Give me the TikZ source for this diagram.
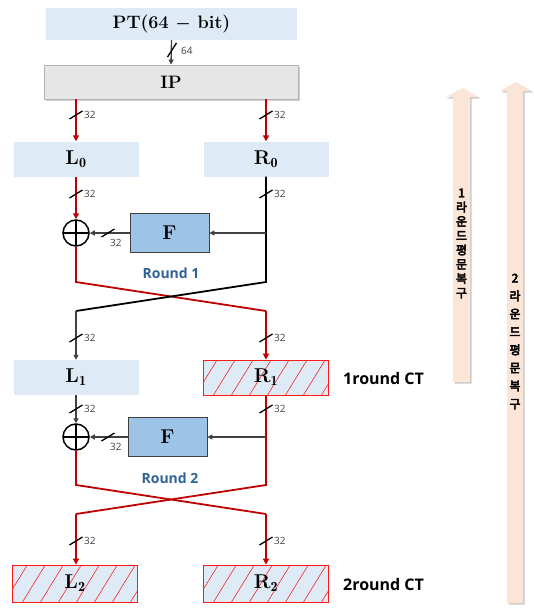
\documentclass[tikz,border=0pt]{standalone}
\usepackage{fontspec}
\usepackage{amsmath,bm}
\newfontfamily\sansf{Open Sans}
\newfontfamily\krf[FakeBold=4]{Noto Sans CJK KR}
\usetikzlibrary{arrows.meta,shadows,calc}
\definecolor{boxblue}{HTML}{DEEBF7}
\definecolor{fblue}{HTML}{9DC3E6}
\definecolor{ipgray}{HTML}{E7E6E6}
\definecolor{redl}{HTML}{C00000}
\definecolor{roundblue}{HTML}{2F6396}
\definecolor{peach}{HTML}{FBE5D6}
\definecolor{darkg}{HTML}{404040}
\newcommand\bitmark[4]{%
  \coordinate (#1) at #2;
  \draw[slashst] ($(#1)+(-6.5,4)$) -- ($(#1)+(6.5,-4)$);
  \node[bitlbl] (#1t) at ($(#1)+#3$) {#4};}
\begin{document}
\begin{tikzpicture}[x=1pt,y=-1pt,
  bigfont/.style={font=\fontsize{18}{20}\selectfont\bfseries},
  boxfont/.style={font=\fontsize{20}{22}\selectfont\bfseries},
  lbox/.style={fill=boxblue, minimum width=125pt, minimum height=35pt, inner sep=0pt, boxfont},
  hatchbox/.style={lbox, draw=red!90, line width=0.7pt,
    path picture={\foreach \k in {0,...,8}{\draw[red, line width=0.5pt]
      ([xshift=\k*18pt-8pt]path picture bounding box.south west) -- ++(24pt,39pt);}}},
  fbox/.style={fill=fblue, draw=darkg, line width=0.8pt, minimum width=79pt, minimum height=39pt,
    inner sep=0pt, boxfont},
  xorn/.style={circle, draw=black, line width=1.5pt, minimum size=26pt, inner sep=0pt,
    path picture={\draw[line width=1.5pt] (path picture bounding box.north) -- (path picture bounding box.south)
      (path picture bounding box.west) -- (path picture bounding box.east);}},
  redline/.style={draw=redl, line width=1.8pt},
  redarr/.style={redline, -{Triangle[width=6pt,length=6pt]}},
  blkline/.style={draw=black, line width=1.8pt},
  grayarr/.style={draw=darkg, line width=1.3pt, -{Triangle[width=5pt,length=5pt]}},
  slashst/.style={draw=black, line width=1.3pt},
  bitlbl/.style={anchor=west, inner sep=0pt, font=\sansf\fontsize{10}{11}\selectfont, text=darkg},
  roundlbl/.style={font=\sansf\bfseries\fontsize{14}{16}\selectfont, text=roundblue},
  ctlbl/.style={anchor=west, inner sep=0pt, font=\sansf\bfseries\fontsize{16}{18}\selectfont},
  krlbl/.style={align=center, inner sep=0pt, font=\krf\fontsize{12}{#1}\selectfont},
]
\useasboundingbox (0,0) rectangle (533,613);

% block arrows
\fill[peach, drop shadow={shadow xshift=1.5pt, shadow yshift=-1.5pt, opacity=0.35, fill=black!60}]
  (453,382) -- (453,97) -- (446,97) -- (462.5,88) -- (479,97) -- (470,97) -- (470,382) -- cycle;
\fill[peach, drop shadow={shadow xshift=1.5pt, shadow yshift=-1.5pt, opacity=0.35, fill=black!60}]
  (507,603) -- (507,91) -- (500,91) -- (516,82) -- (532,91) -- (523,91) -- (523,603) -- cycle;
\node[krlbl=14.3] (k1) at (461.5,243.5) {1\\라\\운\\드\\평\\문\\복\\구};
\node[krlbl=18] (k2) at (515,341.5) {2\\라\\운\\드\\평\\문\\복\\구};

% boxes
\node[fill=boxblue, minimum width=251pt, minimum height=32pt, inner sep=0pt, bigfont] (PT) at (171.5,24) {PT(64 $\bm{-}$ bit)};
\node[fill=ipgray, draw=black!30, line width=0.8pt, minimum width=254pt, minimum height=34pt, inner sep=0pt,
  drop shadow={shadow xshift=1.5pt, shadow yshift=-1.5pt, opacity=0.3, fill=black!60}, bigfont] (IP) at (171,82) {IP};
\node[lbox] (L0) at (76,159) {L$_{\mathbf{0}}$};
\node[lbox] (R0) at (266,159) {R$_{\mathbf{0}}$};
\node[xorn] (X1) at (76,233) {};
\node[fbox] (F1) at (169.5,233) {F};
\node[roundlbl] (rd1) at (171,273) {Round 1};
\node[lbox] (L1) at (76,377.5) {L$_{\mathbf{1}}$};
\node[hatchbox] (R1) at (266,377.5) {R$_{\mathbf{1}}$};
\node[ctlbl] (ct1) at (343,378) {1round CT};
\node[xorn] (X2) at (76,437) {};
\node[fbox] (F2) at (167.5,437) {F};
\node[roundlbl] (rd2) at (170,478) {Round 2};
\node[hatchbox, minimum height=37pt] (L2) at (75,583.5) {L$_{\mathbf{2}}$};
\node[hatchbox, minimum height=37pt] (R2) at (266,583.5) {R$_{\mathbf{2}}$};
\node[ctlbl] (ct2) at (343,584) {2round CT};

% PT -> IP
\draw[grayarr] (PT.south) -- (IP.north);
\coordinate (s64) at (172,50);
\draw[slashst] ($(s64)+(-4.5,7)$) -- ($(s64)+(4.5,-7)$);
\node[bitlbl] (s64t) at (181,51) {64};

% IP -> L0, R0
\draw[redarr] (IP.south -| L0.north) -- (L0.north);
\draw[redarr] (IP.south -| R0.north) -- (R0.north);
\bitmark{sa}{(76,115)}{(8,0)}{32}
\bitmark{sb}{(266,115)}{(8,0)}{32}

% round 1
\draw[redarr] (L0.south) -- (X1.north);
\bitmark{sc}{(76,194)}{(8,0)}{32}
\coordinate (c1a) at (76,282);
\coordinate (c1b) at (266,282);
\coordinate (c1c) at (76,311);
\coordinate (c1d) at (266,311);
\draw[redline] (X1.south) -- (c1a) -- (c1d);
\draw[redarr] (c1d) -- (R1.north);
\draw[blkline] (R0.south) -- (c1b) -- (c1c);
\draw[grayarr] (c1c) -- (L1.north);
\bitmark{sd}{(266,194)}{(8,0)}{32}
\draw[grayarr] (R0.south |- F1.east) -- (F1.east);
\draw[grayarr] (F1.west) -- (X1.east);
\bitmark{se}{(108,233)}{(2,10)}{32}
\bitmark{sf}{(76,338)}{(8,0)}{32}
\bitmark{sg}{(266,338)}{(8,0)}{32}

% round 2
\draw[grayarr] (L1.south) -- (X2.north);
\bitmark{sh}{(76,409)}{(8,0)}{32}
\coordinate (c2a) at (76,485);
\coordinate (c2b) at (266,485);
\coordinate (c2c) at (76,514);
\coordinate (c2d) at (266,514);
\draw[redline] (X2.south) -- (c2a) -- (c2d);
\draw[redarr] (c2d) -- (R2.north);
\draw[redline] (R1.south) -- (c2b) -- (c2c);
\draw[redarr] (c2c) -- (L2.north -| c2c);
\bitmark{si}{(266,409)}{(8,0)}{32}
\draw[grayarr] (R1.south |- F2.east) -- (F2.east);
\draw[grayarr] (F2.west) -- (X2.east);
\bitmark{sj}{(108,437)}{(2,10)}{32}
\bitmark{sk}{(76,541)}{(8,0)}{32}
\bitmark{sl}{(266,541)}{(8,0)}{32}
\end{tikzpicture}
\end{document}
